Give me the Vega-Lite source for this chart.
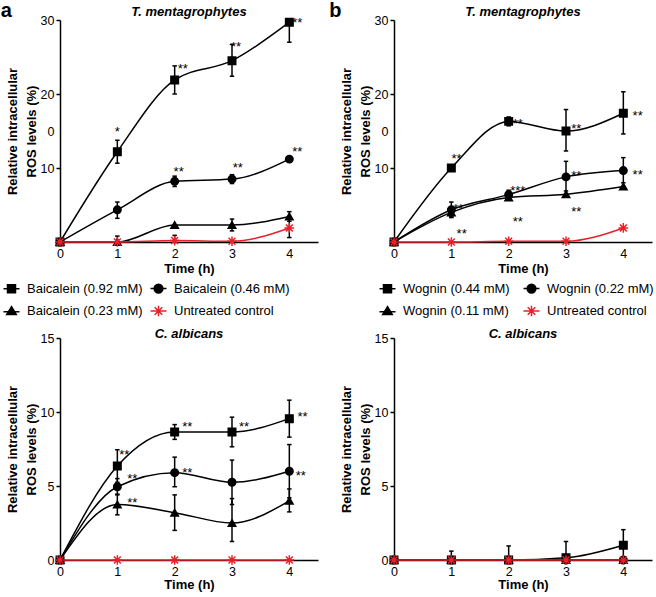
{
"$schema": "https://vega.github.io/schema/vega-lite/v6.json",
"padding": {"top": 1, "left": 0, "right": 0, "bottom": 0},
"autosize": {"type": "pad"},
"config": {
  "font": "Liberation Sans",
  "view": {"stroke": null},
  "axis": {"labelFont": "Liberation Sans", "titleFont": "Liberation Sans", "labelColor": "black", "titleColor": "black", "domainColor": "black", "tickColor": "black", "grid": false, "labelFontSize": 12.5, "titleFontSize": 13, "titleFontWeight": "bold", "domainWidth": 1.5, "tickWidth": 1.5},
  "title": {"font": "Liberation Sans", "fontSize": 13, "fontStyle": "italic", "fontWeight": "bold", "color": "black", "anchor": "middle"}
},
"datasets": {
  "pts": [
    {"p":"a","s":"Baicalein (0.92 mM)","t":0,"v":0},{"p":"a","s":"Baicalein (0.92 mM)","t":1,"v":12.2},{"p":"a","s":"Baicalein (0.92 mM)","t":2,"v":21.9},{"p":"a","s":"Baicalein (0.92 mM)","t":3,"v":24.5},{"p":"a","s":"Baicalein (0.92 mM)","t":4,"v":29.7},
    {"p":"a","s":"Baicalein (0.46 mM)","t":0,"v":0},{"p":"a","s":"Baicalein (0.46 mM)","t":1,"v":4.35},{"p":"a","s":"Baicalein (0.46 mM)","t":2,"v":8.2},{"p":"a","s":"Baicalein (0.46 mM)","t":3,"v":8.5},{"p":"a","s":"Baicalein (0.46 mM)","t":4,"v":11.2},
    {"p":"a","s":"Baicalein (0.23 mM)","t":0,"v":0},{"p":"a","s":"Baicalein (0.23 mM)","t":1,"v":0},{"p":"a","s":"Baicalein (0.23 mM)","t":2,"v":2.3},{"p":"a","s":"Baicalein (0.23 mM)","t":3,"v":2.3},{"p":"a","s":"Baicalein (0.23 mM)","t":4,"v":3.45},
    {"p":"a","s":"Untreated control","t":0,"v":0},{"p":"a","s":"Untreated control","t":1,"v":0},{"p":"a","s":"Untreated control","t":2,"v":0.2},{"p":"a","s":"Untreated control","t":3,"v":0.1},{"p":"a","s":"Untreated control","t":4,"v":1.9},
    {"p":"b","s":"Wognin (0.44 mM)","t":0,"v":0},{"p":"b","s":"Wognin (0.44 mM)","t":1,"v":10.0},{"p":"b","s":"Wognin (0.44 mM)","t":2,"v":16.3},{"p":"b","s":"Wognin (0.44 mM)","t":3,"v":15.0},{"p":"b","s":"Wognin (0.44 mM)","t":4,"v":17.4},
    {"p":"b","s":"Wognin (0.22 mM)","t":0,"v":0},{"p":"b","s":"Wognin (0.22 mM)","t":1,"v":4.35},{"p":"b","s":"Wognin (0.22 mM)","t":2,"v":6.4},{"p":"b","s":"Wognin (0.22 mM)","t":3,"v":8.8},{"p":"b","s":"Wognin (0.22 mM)","t":4,"v":9.65},
    {"p":"b","s":"Wognin (0.11 mM)","t":0,"v":0},{"p":"b","s":"Wognin (0.11 mM)","t":1,"v":4.0},{"p":"b","s":"Wognin (0.11 mM)","t":2,"v":6.0},{"p":"b","s":"Wognin (0.11 mM)","t":3,"v":6.45},{"p":"b","s":"Wognin (0.11 mM)","t":4,"v":7.5},
    {"p":"b","s":"Untreated control","t":0,"v":0},{"p":"b","s":"Untreated control","t":1,"v":0},{"p":"b","s":"Untreated control","t":2,"v":0.1},{"p":"b","s":"Untreated control","t":3,"v":0.1},{"p":"b","s":"Untreated control","t":4,"v":1.9},
    {"p":"c","s":"Baicalein (0.92 mM)","t":0,"v":0},{"p":"c","s":"Baicalein (0.92 mM)","t":1,"v":6.35},{"p":"c","s":"Baicalein (0.92 mM)","t":2,"v":8.65},{"p":"c","s":"Baicalein (0.92 mM)","t":3,"v":8.65},{"p":"c","s":"Baicalein (0.92 mM)","t":4,"v":9.55},
    {"p":"c","s":"Baicalein (0.46 mM)","t":0,"v":0},{"p":"c","s":"Baicalein (0.46 mM)","t":1,"v":4.95},{"p":"c","s":"Baicalein (0.46 mM)","t":2,"v":5.9},{"p":"c","s":"Baicalein (0.46 mM)","t":3,"v":5.25},{"p":"c","s":"Baicalein (0.46 mM)","t":4,"v":6.0},
    {"p":"c","s":"Baicalein (0.23 mM)","t":0,"v":0},{"p":"c","s":"Baicalein (0.23 mM)","t":1,"v":3.75},{"p":"c","s":"Baicalein (0.23 mM)","t":2,"v":3.2},{"p":"c","s":"Baicalein (0.23 mM)","t":3,"v":2.5},{"p":"c","s":"Baicalein (0.23 mM)","t":4,"v":4.0},
    {"p":"c","s":"Untreated control","t":0,"v":0},{"p":"c","s":"Untreated control","t":1,"v":0},{"p":"c","s":"Untreated control","t":2,"v":0},{"p":"c","s":"Untreated control","t":3,"v":0},{"p":"c","s":"Untreated control","t":4,"v":0},
    {"p":"d","s":"Wognin (0.44 mM)","t":0,"v":0},{"p":"d","s":"Wognin (0.44 mM)","t":1,"v":0},{"p":"d","s":"Wognin (0.44 mM)","t":2,"v":0},{"p":"d","s":"Wognin (0.44 mM)","t":3,"v":0.15},{"p":"d","s":"Wognin (0.44 mM)","t":4,"v":1.0},
    {"p":"d","s":"Wognin (0.22 mM)","t":0,"v":0},{"p":"d","s":"Wognin (0.22 mM)","t":1,"v":0},{"p":"d","s":"Wognin (0.22 mM)","t":2,"v":0},{"p":"d","s":"Wognin (0.22 mM)","t":3,"v":0},{"p":"d","s":"Wognin (0.22 mM)","t":4,"v":0},
    {"p":"d","s":"Wognin (0.11 mM)","t":0,"v":0},{"p":"d","s":"Wognin (0.11 mM)","t":1,"v":0},{"p":"d","s":"Wognin (0.11 mM)","t":2,"v":0},{"p":"d","s":"Wognin (0.11 mM)","t":3,"v":0},{"p":"d","s":"Wognin (0.11 mM)","t":4,"v":0},
    {"p":"d","s":"Untreated control","t":0,"v":0},{"p":"d","s":"Untreated control","t":1,"v":0},{"p":"d","s":"Untreated control","t":2,"v":0},{"p":"d","s":"Untreated control","t":3,"v":0},{"p":"d","s":"Untreated control","t":4,"v":0}
  ],
  "err": [
    {"p":"a","t":1,"lo":10.65,"hi":13.75},{"p":"a","t":2,"lo":20.0,"hi":23.8},{"p":"a","t":3,"lo":22.4,"hi":26.7},{"p":"a","t":4,"lo":27.0,"hi":30.0},
    {"p":"a","t":1,"lo":3.2,"hi":5.4},{"p":"a","t":2,"lo":7.5,"hi":8.9},{"p":"a","t":3,"lo":7.9,"hi":9.1},
    {"p":"a","t":1,"lo":0,"hi":0.8},{"p":"a","t":3,"lo":1.5,"hi":3.1},{"p":"a","t":4,"lo":2.8,"hi":4.1},
    {"p":"a","t":2,"lo":0,"hi":0.9},{"p":"a","t":4,"lo":0.6,"hi":3.2},
    {"p":"b","t":2,"lo":15.7,"hi":16.9},{"p":"b","t":3,"lo":12.3,"hi":17.9},{"p":"b","t":4,"lo":14.6,"hi":20.3},
    {"p":"b","t":1,"lo":3.3,"hi":5.4},{"p":"b","t":2,"lo":5.8,"hi":7.0},{"p":"b","t":3,"lo":6.9,"hi":10.9},{"p":"b","t":4,"lo":8.0,"hi":11.4},
    {"p":"b","t":1,"lo":3.4,"hi":4.6},
    {"p":"c","t":1,"lo":5.25,"hi":7.45},{"p":"c","t":2,"lo":8.15,"hi":9.15},{"p":"c","t":3,"lo":7.65,"hi":9.65},{"p":"c","t":4,"lo":8.3,"hi":10.8},
    {"p":"c","t":1,"lo":4.4,"hi":5.5},{"p":"c","t":2,"lo":4.95,"hi":6.95},{"p":"c","t":3,"lo":3.75,"hi":6.75},{"p":"c","t":4,"lo":4.2,"hi":7.8},
    {"p":"c","t":1,"lo":3.05,"hi":4.45},{"p":"c","t":2,"lo":2.0,"hi":4.4},{"p":"c","t":3,"lo":1.25,"hi":4.15},{"p":"c","t":4,"lo":3.25,"hi":4.8},
    {"p":"d","t":1,"lo":0,"hi":0.6},{"p":"d","t":2,"lo":0,"hi":0.95},{"p":"d","t":3,"lo":0,"hi":1.25},{"p":"d","t":4,"lo":0,"hi":2.05}
  ],
  "stars": [
    {"p":"a","t":1.0,"v":15.25,"txt":"*"},{"p":"a","t":2.14,"v":23.8,"txt":"**"},{"p":"a","t":3.07,"v":26.8,"txt":"**"},{"p":"a","t":4.14,"v":30.05,"txt":"**"},{"p":"a","t":2.07,"v":9.87,"txt":"**"},{"p":"a","t":3.1,"v":10.45,"txt":"**"},{"p":"a","t":4.14,"v":12.56,"txt":"**"},
    {"p":"b","t":1.18,"v":1.44,"txt":"**"},{"p":"b","t":1.09,"v":11.6,"txt":"**"},{"p":"b","t":1.12,"v":4.9,"txt":"**"},{"p":"b","t":2.16,"v":16.3,"txt":"**"},{"p":"b","t":2.16,"v":7.3,"txt":"***"},{"p":"b","t":2.16,"v":3.05,"txt":"**"},{"p":"b","t":3.18,"v":15.7,"txt":"**"},{"p":"b","t":3.18,"v":9.3,"txt":"**"},{"p":"b","t":3.18,"v":4.4,"txt":"**"},{"p":"b","t":4.25,"v":17.4,"txt":"**"},{"p":"b","t":4.25,"v":9.5,"txt":"**"},
    {"p":"c","t":1.12,"v":7.3,"txt":"**"},{"p":"c","t":1.26,"v":5.65,"txt":"**"},{"p":"c","t":1.26,"v":4.08,"txt":"**"},{"p":"c","t":2.22,"v":9.18,"txt":"**"},{"p":"c","t":2.22,"v":6.06,"txt":"**"},{"p":"c","t":3.21,"v":9.18,"txt":"**"},{"p":"c","t":4.23,"v":9.85,"txt":"**"},{"p":"c","t":4.2,"v":5.88,"txt":"**"}
  ]
},
"columns": 2,
"spacing": {"row": 8, "column": 11},
"resolve": {"scale": {"shape": "independent", "stroke": "independent"}, "legend": {"shape": "independent", "stroke": "independent"}},
"concat": [
  {
    "width": 258, "height": 222,
    "title": {"text": "T. mentagrophytes", "offset": -18},
    "resolve": {"scale": {"shape": "independent", "stroke": "independent"}, "legend": {"shape": "independent", "stroke": "independent"}},
    "layer": [
      {"data": {"name": "err"}, "transform": [{"filter": "datum.p == 'a'"}],
       "mark": {"type": "rule", "color": "black", "strokeWidth": 1.5},
       "encoding": {
         "x": {"field": "t", "type": "quantitative", "scale": {"domain": [0, 4.5], "nice": false, "zero": false},
               "axis": {"values": [0,1,2,3,4], "format": "d", "title": "Time (h)", "ticks": false, "labelPadding": 5, "titlePadding": 3, "labelFlush": false}},
         "y": {"field": "lo", "type": "quantitative", "scale": {"domain": [0, 30], "nice": false},
               "axis": {"values": [0,10,15,20,30], "labelExpr": "datum.value == 15 ? '0' : datum.value == 0 ? '' : datum.label", "tickSize": 4, "tickColor": {"condition": {"test": "datum.value == 15 || datum.value == 0", "value": "transparent"}, "value": "black"}, "title": ["Relative intracellular", "ROS levels (%)"], "titleLineHeight": 19, "titlePadding": 2}},
         "y2": {"field": "hi"}}},
      {"data": {"name": "err"}, "transform": [{"filter": "datum.p == 'a'"}],
       "mark": {"type": "point", "shape": "stroke", "size": 20, "strokeWidth": 1.5, "color": "black", "opacity": 1},
       "encoding": {"x": {"field": "t", "type": "quantitative"}, "y": {"field": "hi", "type": "quantitative"}}},
      {"data": {"name": "err"}, "transform": [{"filter": "datum.p == 'a'"}],
       "mark": {"type": "point", "shape": "stroke", "size": 20, "strokeWidth": 1.5, "color": "black", "opacity": 1},
       "encoding": {"x": {"field": "t", "type": "quantitative"}, "y": {"field": "lo", "type": "quantitative"}}},
      {"data": {"name": "pts"}, "transform": [{"filter": "datum.p == 'a'"}],
       "mark": {"type": "line", "interpolate": "monotone", "strokeWidth": 1.5},
       "encoding": {"x": {"field": "t", "type": "quantitative"}, "y": {"field": "v", "type": "quantitative"},
         "detail": {"field": "s", "type": "nominal"},
         "stroke": {"condition": {"test": "datum.s == 'Untreated control'", "value": "#e8202a"}, "value": "black"}}},
      {"data": {"name": "pts"}, "transform": [{"filter": "datum.p == 'a'"}],
       "mark": {"type": "point", "size": 56, "strokeWidth": 1.5, "opacity": 1, "fill": "black", "fillOpacity": 1},
       "encoding": {"x": {"field": "t", "type": "quantitative"}, "y": {"field": "v", "type": "quantitative"},
         "shape": {"field": "s", "type": "nominal", "scale": {"domain": ["Baicalein (0.92 mM)","Baicalein (0.46 mM)","Baicalein (0.23 mM)","Untreated control"], "range": ["square","circle","triangle-up","M0,-1.3V1.3M-1.3,0H1.3M-0.92,-0.92L0.92,0.92M-0.92,0.92L0.92,-0.92"]}, "legend": null},
         "stroke": {"condition": {"test": "datum.s == 'Untreated control'", "value": "#e8202a"}, "value": "black"}}},
      {"data": {"name": "pts"}, "transform": [{"filter": "datum.p == 'a' && datum.t < 0"}],
       "mark": {"type": "point", "strokeWidth": 1.5, "opacity": 1, "fill": "black", "fillOpacity": 1},
       "encoding": {"x": {"field": "t", "type": "quantitative"}, "y": {"field": "v", "type": "quantitative"},
         "shape": {"field": "s", "type": "nominal", "scale": {"domain": ["Baicalein (0.92 mM)","Baicalein (0.46 mM)","Baicalein (0.23 mM)","Untreated control"], "range": ["M-2,0H2M-1,-1H1V1H-1Z","M-2,0H2M1.1,0A1.1,1.1,0,1,1,-1.1,0A1.1,1.1,0,1,1,1.1,0Z","M-2,0.2H2M0,-1.1L1.2,0.9H-1.2Z","M-2,0H2M0,-1.3V1.3M-0.95,-0.95L0.95,0.95M-0.95,0.95L0.95,-0.95"]},
           "legend": {"orient": "none", "direction": "horizontal", "legendX": -55, "legendY": 262, "columns": 2, "columnPadding": 4, "rowPadding": 6.5, "symbolSize": 64, "symbolStrokeWidth": 1.5, "labelFont": "Liberation Sans", "labelFontSize": 13, "labelColor": "black", "labelOffset": 9, "padding": 0, "title": null, "labelLimit": 300}},
         "stroke": {"field": "s", "type": "nominal", "scale": {"domain": ["Baicalein (0.92 mM)","Baicalein (0.46 mM)","Baicalein (0.23 mM)","Untreated control"], "range": ["black","black","black","#e8202a"]},
           "legend": {"orient": "none", "direction": "horizontal", "legendX": -55, "legendY": 262, "columns": 2, "columnPadding": 4, "rowPadding": 6.5, "symbolSize": 64, "symbolStrokeWidth": 1.5, "labelFont": "Liberation Sans", "labelFontSize": 13, "labelColor": "black", "labelOffset": 9, "padding": 0, "title": null, "labelLimit": 300}}}},
      {"data": {"name": "stars"}, "transform": [{"filter": "datum.p == 'a'"}],
       "mark": {"type": "text", "fontSize": 13, "dy": 3, "color": "black"},
       "encoding": {"x": {"field": "t", "type": "quantitative"}, "y": {"field": "v", "type": "quantitative"}, "text": {"field": "txt"}}},
      {"data": {"values": [{"lbl": "a"}]},
       "mark": {"type": "text", "fontSize": 20, "fontWeight": "bold", "align": "left", "baseline": "alphabetic", "color": "black"},
       "encoding": {"x": {"datum": -1.035}, "y": {"datum": 30.4}, "text": {"field": "lbl"}}}
    ]
  },
  {
    "width": 258, "height": 222,
    "title": {"text": "T. mentagrophytes", "offset": -18},
    "resolve": {"scale": {"shape": "independent", "stroke": "independent"}, "legend": {"shape": "independent", "stroke": "independent"}},
    "layer": [
      {"data": {"name": "err"}, "transform": [{"filter": "datum.p == 'b'"}],
       "mark": {"type": "rule", "color": "black", "strokeWidth": 1.5},
       "encoding": {
         "x": {"field": "t", "type": "quantitative", "scale": {"domain": [0, 4.5], "nice": false, "zero": false},
               "axis": {"values": [0,1,2,3,4], "format": "d", "title": "Time (h)", "ticks": false, "labelPadding": 5, "titlePadding": 3, "labelFlush": false}},
         "y": {"field": "lo", "type": "quantitative", "scale": {"domain": [0, 30], "nice": false},
               "axis": {"values": [0,10,15,20,30], "labelExpr": "datum.value == 15 ? '0' : datum.value == 0 ? '' : datum.label", "tickSize": 4, "tickColor": {"condition": {"test": "datum.value == 15 || datum.value == 0", "value": "transparent"}, "value": "black"}, "title": ["Relative intracellular", "ROS levels (%)"], "titleLineHeight": 19, "titlePadding": 2}},
         "y2": {"field": "hi"}}},
      {"data": {"name": "err"}, "transform": [{"filter": "datum.p == 'b'"}],
       "mark": {"type": "point", "shape": "stroke", "size": 20, "strokeWidth": 1.5, "color": "black", "opacity": 1},
       "encoding": {"x": {"field": "t", "type": "quantitative"}, "y": {"field": "hi", "type": "quantitative"}}},
      {"data": {"name": "err"}, "transform": [{"filter": "datum.p == 'b'"}],
       "mark": {"type": "point", "shape": "stroke", "size": 20, "strokeWidth": 1.5, "color": "black", "opacity": 1},
       "encoding": {"x": {"field": "t", "type": "quantitative"}, "y": {"field": "lo", "type": "quantitative"}}},
      {"data": {"name": "pts"}, "transform": [{"filter": "datum.p == 'b'"}],
       "mark": {"type": "line", "interpolate": "monotone", "strokeWidth": 1.5},
       "encoding": {"x": {"field": "t", "type": "quantitative"}, "y": {"field": "v", "type": "quantitative"},
         "detail": {"field": "s", "type": "nominal"},
         "stroke": {"condition": {"test": "datum.s == 'Untreated control'", "value": "#e8202a"}, "value": "black"}}},
      {"data": {"name": "pts"}, "transform": [{"filter": "datum.p == 'b'"}],
       "mark": {"type": "point", "size": 56, "strokeWidth": 1.5, "opacity": 1, "fill": "black", "fillOpacity": 1},
       "encoding": {"x": {"field": "t", "type": "quantitative"}, "y": {"field": "v", "type": "quantitative"},
         "shape": {"field": "s", "type": "nominal", "scale": {"domain": ["Wognin (0.44 mM)","Wognin (0.22 mM)","Wognin (0.11 mM)","Untreated control"], "range": ["square","circle","triangle-up","M0,-1.3V1.3M-1.3,0H1.3M-0.92,-0.92L0.92,0.92M-0.92,0.92L0.92,-0.92"]}, "legend": null},
         "stroke": {"condition": {"test": "datum.s == 'Untreated control'", "value": "#e8202a"}, "value": "black"}}},
      {"data": {"name": "pts"}, "transform": [{"filter": "datum.p == 'b' && datum.t < 0"}],
       "mark": {"type": "point", "strokeWidth": 1.5, "opacity": 1, "fill": "black", "fillOpacity": 1},
       "encoding": {"x": {"field": "t", "type": "quantitative"}, "y": {"field": "v", "type": "quantitative"},
         "shape": {"field": "s", "type": "nominal", "scale": {"domain": ["Wognin (0.44 mM)","Wognin (0.22 mM)","Wognin (0.11 mM)","Untreated control"], "range": ["M-2,0H2M-1,-1H1V1H-1Z","M-2,0H2M1.1,0A1.1,1.1,0,1,1,-1.1,0A1.1,1.1,0,1,1,1.1,0Z","M-2,0.2H2M0,-1.1L1.2,0.9H-1.2Z","M-2,0H2M0,-1.3V1.3M-0.95,-0.95L0.95,0.95M-0.95,0.95L0.95,-0.95"]},
           "legend": {"orient": "none", "direction": "horizontal", "legendX": -13, "legendY": 262, "columns": 2, "columnPadding": 10, "rowPadding": 6.5, "symbolSize": 64, "symbolStrokeWidth": 1.5, "labelFont": "Liberation Sans", "labelFontSize": 13, "labelColor": "black", "labelOffset": 9, "padding": 0, "title": null, "labelLimit": 300}},
         "stroke": {"field": "s", "type": "nominal", "scale": {"domain": ["Wognin (0.44 mM)","Wognin (0.22 mM)","Wognin (0.11 mM)","Untreated control"], "range": ["black","black","black","#e8202a"]},
           "legend": {"orient": "none", "direction": "horizontal", "legendX": -13, "legendY": 262, "columns": 2, "columnPadding": 10, "rowPadding": 6.5, "symbolSize": 64, "symbolStrokeWidth": 1.5, "labelFont": "Liberation Sans", "labelFontSize": 13, "labelColor": "black", "labelOffset": 9, "padding": 0, "title": null, "labelLimit": 300}}}},
      {"data": {"name": "stars"}, "transform": [{"filter": "datum.p == 'b'"}],
       "mark": {"type": "text", "fontSize": 13, "dy": 3, "color": "black"},
       "encoding": {"x": {"field": "t", "type": "quantitative"}, "y": {"field": "v", "type": "quantitative"}, "text": {"field": "txt"}}},
      {"data": {"values": [{"lbl": "b"}]},
       "mark": {"type": "text", "fontSize": 20, "fontWeight": "bold", "align": "left", "baseline": "alphabetic", "color": "black"},
       "encoding": {"x": {"datum": -1.13}, "y": {"datum": 30.4}, "text": {"field": "lbl"}}}
    ]
  },
  {
    "width": 258, "height": 222,
    "title": {"text": "C. albicans", "offset": -9},
    "layer": [
      {"data": {"name": "err"}, "transform": [{"filter": "datum.p == 'c'"}],
       "mark": {"type": "rule", "color": "black", "strokeWidth": 1.5},
       "encoding": {
         "x": {"field": "t", "type": "quantitative", "scale": {"domain": [0, 4.5], "nice": false, "zero": false},
               "axis": {"values": [0,1,2,3,4], "format": "d", "title": "Time (h)", "ticks": false, "labelPadding": 5, "titlePadding": 1, "labelFlush": false}},
         "y": {"field": "lo", "type": "quantitative", "scale": {"domain": [0, 15], "nice": false},
               "axis": {"values": [0,5,10,15], "tickSize": 4, "title": ["Relative intracellular", "ROS levels (%)"], "titleLineHeight": 19, "titlePadding": 2}},
         "y2": {"field": "hi"}}},
      {"data": {"name": "err"}, "transform": [{"filter": "datum.p == 'c'"}],
       "mark": {"type": "point", "shape": "stroke", "size": 20, "strokeWidth": 1.5, "color": "black", "opacity": 1},
       "encoding": {"x": {"field": "t", "type": "quantitative"}, "y": {"field": "hi", "type": "quantitative"}}},
      {"data": {"name": "err"}, "transform": [{"filter": "datum.p == 'c'"}],
       "mark": {"type": "point", "shape": "stroke", "size": 20, "strokeWidth": 1.5, "color": "black", "opacity": 1},
       "encoding": {"x": {"field": "t", "type": "quantitative"}, "y": {"field": "lo", "type": "quantitative"}}},
      {"data": {"name": "pts"}, "transform": [{"filter": "datum.p == 'c'"}],
       "mark": {"type": "line", "interpolate": "monotone", "strokeWidth": 1.5},
       "encoding": {"x": {"field": "t", "type": "quantitative"}, "y": {"field": "v", "type": "quantitative"},
         "detail": {"field": "s", "type": "nominal"},
         "stroke": {"condition": {"test": "datum.s == 'Untreated control'", "value": "#e8202a"}, "value": "black"}}},
      {"data": {"name": "pts"}, "transform": [{"filter": "datum.p == 'c'"}],
       "mark": {"type": "point", "size": 56, "strokeWidth": 1.5, "opacity": 1, "fill": "black", "fillOpacity": 1},
       "encoding": {"x": {"field": "t", "type": "quantitative"}, "y": {"field": "v", "type": "quantitative"},
         "shape": {"field": "s", "type": "nominal", "scale": {"domain": ["Baicalein (0.92 mM)","Baicalein (0.46 mM)","Baicalein (0.23 mM)","Untreated control"], "range": ["square","circle","triangle-up","M0,-1.3V1.3M-1.3,0H1.3M-0.92,-0.92L0.92,0.92M-0.92,0.92L0.92,-0.92"]}, "legend": null},
         "stroke": {"condition": {"test": "datum.s == 'Untreated control'", "value": "#e8202a"}, "value": "black"}}},
      {"data": {"name": "stars"}, "transform": [{"filter": "datum.p == 'c'"}],
       "mark": {"type": "text", "fontSize": 13, "dy": 3, "color": "black"},
       "encoding": {"x": {"field": "t", "type": "quantitative"}, "y": {"field": "v", "type": "quantitative"}, "text": {"field": "txt"}}}
    ]
  },
  {
    "width": 258, "height": 222,
    "title": {"text": "C. albicans", "offset": -9},
    "layer": [
      {"data": {"name": "err"}, "transform": [{"filter": "datum.p == 'd'"}],
       "mark": {"type": "rule", "color": "black", "strokeWidth": 1.5},
       "encoding": {
         "x": {"field": "t", "type": "quantitative", "scale": {"domain": [0, 4.5], "nice": false, "zero": false},
               "axis": {"values": [0,1,2,3,4], "format": "d", "title": "Time (h)", "ticks": false, "labelPadding": 5, "titlePadding": 1, "labelFlush": false}},
         "y": {"field": "lo", "type": "quantitative", "scale": {"domain": [0, 15], "nice": false},
               "axis": {"values": [0,5,10,15], "tickSize": 4, "title": ["Relative intracellular", "ROS levels (%)"], "titleLineHeight": 19, "titlePadding": 2}},
         "y2": {"field": "hi"}}},
      {"data": {"name": "err"}, "transform": [{"filter": "datum.p == 'd'"}],
       "mark": {"type": "point", "shape": "stroke", "size": 20, "strokeWidth": 1.5, "color": "black", "opacity": 1},
       "encoding": {"x": {"field": "t", "type": "quantitative"}, "y": {"field": "hi", "type": "quantitative"}}},
      {"data": {"name": "pts"}, "transform": [{"filter": "datum.p == 'd'"}],
       "mark": {"type": "line", "interpolate": "monotone", "strokeWidth": 1.5},
       "encoding": {"x": {"field": "t", "type": "quantitative"}, "y": {"field": "v", "type": "quantitative"},
         "detail": {"field": "s", "type": "nominal"},
         "stroke": {"condition": {"test": "datum.s == 'Untreated control'", "value": "#e8202a"}, "value": "black"}}},
      {"data": {"name": "pts"}, "transform": [{"filter": "datum.p == 'd'"}],
       "mark": {"type": "point", "size": 56, "strokeWidth": 1.5, "opacity": 1, "fill": "black", "fillOpacity": 1},
       "encoding": {"x": {"field": "t", "type": "quantitative"}, "y": {"field": "v", "type": "quantitative"},
         "shape": {"field": "s", "type": "nominal", "scale": {"domain": ["Wognin (0.44 mM)","Wognin (0.22 mM)","Wognin (0.11 mM)","Untreated control"], "range": ["square","circle","triangle-up","M0,-1.3V1.3M-1.3,0H1.3M-0.92,-0.92L0.92,0.92M-0.92,0.92L0.92,-0.92"]}, "legend": null},
         "stroke": {"condition": {"test": "datum.s == 'Untreated control'", "value": "#e8202a"}, "value": "black"}}}
    ]
  }
]
}
